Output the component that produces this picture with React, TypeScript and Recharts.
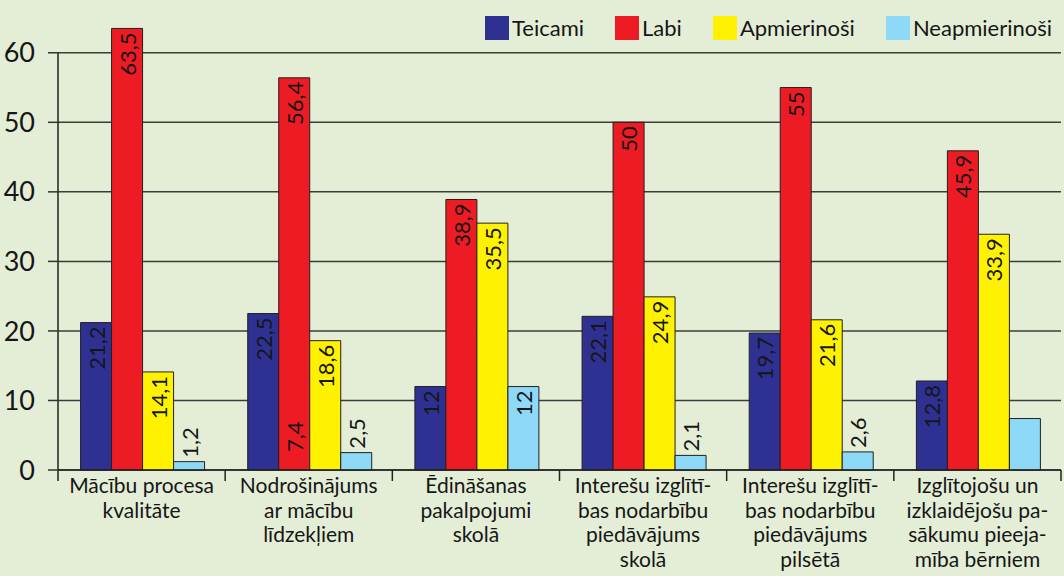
import React from 'react';
import { BarChart, Bar, XAxis, YAxis, CartesianGrid, LabelList, ReferenceLine } from 'recharts';

const categories = [
  'Mācību procesa\nkvalitāte',
  'Nodrošinājums\nar mācību\nlīdzekļiem',
  'Ēdināšanas\npakalpojumi\nskolā',
  'Interešu izglītī-\nbas nodarbību\npiedāvājums\nskolā',
  'Interešu izglītī-\nbas nodarbību\npiedāvājums\npilsētā',
  'Izglītojošu un\nizklaidējošu pa-\nsākumu pieeja-\nmība bērniem',
];
const teicami = [21.2, 22.5, 12, 22.1, 19.7, 12.8];
const labi = [63.5, 56.4, 38.9, 50, 55, 45.9];
const apmierinosi = [14.1, 18.6, 35.5, 24.9, 21.6, 33.9];
const neapmierinosi = [1.2, 2.5, 12, 2.1, 2.6, 7.4];
// the source prints the last group's 7,4 at the foot of the red bar in group 2
const labiFootLabels = [null, 7.4, null, null, null, null];
const neapLabelHidden = [false, false, false, false, false, true];
const yTicks = [0, 10, 20, 30, 40, 50, 60];

const series = [
  { key: 'teicami', name: 'Teicami', color: '#2E3192' },
  { key: 'labi', name: 'Labi', color: '#ED1C24' },
  { key: 'apmierinosi', name: 'Apmierinoši', color: '#FFF200' },
  { key: 'neapmierinosi', name: 'Neapmierinoši', color: '#8ED8F8' },
];

const data = categories.map((category, i) => ({
  category,
  teicami: teicami[i],
  labi: labi[i],
  apmierinosi: apmierinosi[i],
  neapmierinosi: neapmierinosi[i],
  labiFoot: labiFootLabels[i],
}));

const FONT = 'Lato, "Open Sans", sans-serif';
const INK = '#161616';
const fmt = (v: number) => String(v).replace('.', ',');

function makeLabel(hidden?: boolean[]) {
  return (props: any) => {
    const { x, y, width, height, value, index } = props;
    if (value == null || (hidden && hidden[index])) return null;
    const cx = Number(x) + Number(width) / 2;
    const inside = Number(height) > 40;
    const ty = inside ? Number(y) + 4 : Number(y) - 4;
    return (
      <text
        x={cx}
        y={ty}
        transform={`rotate(-90 ${cx} ${ty})`}
        textAnchor={inside ? 'end' : 'start'}
        dominantBaseline="central"
        fontSize={22}
        fontFamily={FONT}
        fill={INK}
      >
        {fmt(value)}
      </text>
    );
  };
}

function footLabel(props: any) {
  const { x, y, width, height, value } = props;
  if (value == null) return null;
  const cx = Number(x) + Number(width) / 2;
  const ty = Number(y) + Number(height) - 18;
  return (
    <text
      x={cx}
      y={ty}
      transform={`rotate(-90 ${cx} ${ty})`}
      textAnchor="start"
      dominantBaseline="central"
      fontSize={22}
      fontFamily={FONT}
      fill={INK}
    >
      {fmt(value)}
    </text>
  );
}

function CategoryTick(props: any) {
  const { x, y, payload } = props;
  const idx = payload?.index ?? props.index ?? 0;
  const half = payload?.offset || 1003 / categories.length / 2;
  const lines = String(payload.value).split('\n');
  return (
    <g>
      <line x1={x - half} x2={x - half} y1={y} y2={y + 11} stroke="#222" strokeWidth={1.5} />
      {idx === categories.length - 1 && (
        <line x1={x + half} x2={x + half} y1={y} y2={y + 11} stroke="#222" strokeWidth={1.5} />
      )}
      <text x={x} y={y + 23} textAnchor="middle" fontSize={21} fontFamily={FONT} fill={INK}>
        {lines.map((l, i) => (
          <tspan key={i} x={x} dy={i === 0 ? 0 : 24.5}>
            {l}
          </tspan>
        ))}
      </text>
    </g>
  );
}

export default function App() {
  return (
    <div
      style={{
        position: 'absolute',
        left: 0,
        top: 0,
        width: 1064,
        height: 576,
        background: '#E4EED6',
        fontFamily: FONT,
      }}
    >
      <div style={{ position: 'absolute', left: 485, top: 14, display: 'flex', alignItems: 'center' }}>
        {series.map((s, i) => (
          <div key={s.key} style={{ display: 'flex', alignItems: 'center', marginRight: i === series.length - 1 ? 0 : 31 }}>
            <span style={{ width: 24, height: 24, background: s.color, display: 'inline-block' }} />
            <span style={{ marginLeft: 3, fontSize: 22, color: INK }}>{s.name}</span>
          </div>
        ))}
      </div>
      <BarChart
        width={1064}
        height={576}
        data={data}
        margin={{ top: 18, right: 3, left: 0, bottom: 0 }}
        barCategoryGap="13.5%"
        barGap={0}
      >
        <CartesianGrid vertical={false} horizontalValues={yTicks} stroke="#3c3c3c" strokeWidth={1.5} />
        <XAxis
          dataKey="category"
          height={106}
          interval={0}
          tickLine={false}
          tickSize={0}
          tickMargin={0}
          axisLine={{ stroke: '#222', strokeWidth: 1.5 }}
          tick={<CategoryTick />}
        />
        <YAxis
          width={58}
          domain={[0, 65]}
          ticks={yTicks}
          interval={0}
          axisLine={false}
          tickLine={{ stroke: '#333', strokeWidth: 1.5 }}
          tickSize={10}
          tickMargin={13}
          tick={{ fontSize: 27, fill: INK, fontFamily: FONT }}
        />
        <ReferenceLine
          segment={[
            { x: categories[0], y: 0 },
            { x: categories[0], y: 60 },
          ]}
          position="start"
          stroke="#222"
          strokeWidth={1.5}
        />
        {series.map((s) => (
          <Bar
            key={s.key}
            dataKey={s.key}
            name={s.name}
            fill={s.color}
            stroke="#231F20"
            strokeWidth={1}
            isAnimationActive={false}
          >
            <LabelList dataKey={s.key} content={makeLabel(s.key === 'neapmierinosi' ? neapLabelHidden : undefined)} />
            {s.key === 'labi' && <LabelList dataKey="labiFoot" content={footLabel} />}
          </Bar>
        ))}
      </BarChart>
    </div>
  );
}
